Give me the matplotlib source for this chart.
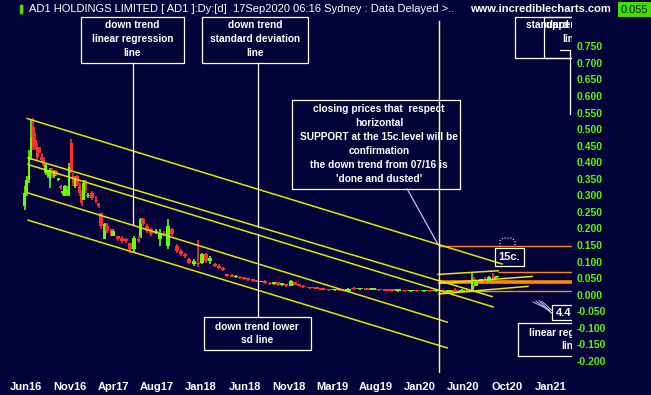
import matplotlib
matplotlib.use('Agg')
import matplotlib.pyplot as plt
import matplotlib.dates as mdates
import matplotlib.transforms as mtransforms
from matplotlib.patches import Rectangle, FancyBboxPatch
import numpy as np
import pandas as pd

plt.rcParams['font.family'] = ['Liberation Sans', 'DejaVu Sans']

# ---- price data (roughly weekly / fortnightly bars) ----
dates = ['2016-06-03', '2016-06-10', '2016-06-17', '2016-06-24', '2016-07-01', '2016-07-08', '2016-07-15',
         '2016-07-22', '2016-07-29', '2016-08-05', '2016-08-12', '2016-08-19', '2016-08-26', '2016-09-02',
         '2016-09-09', '2016-09-16', '2016-09-23', '2016-09-30', '2016-10-07', '2016-10-14', '2016-10-21',
         '2016-10-28', '2016-11-04', '2016-11-11', '2016-11-18', '2016-11-25', '2016-12-02', '2016-12-09',
         '2016-12-16', '2016-12-23', '2016-12-30',
         '2017-01-13', '2017-01-27', '2017-02-03', '2017-02-10', '2017-02-24', '2017-03-03', '2017-03-17',
         '2017-03-24', '2017-04-07', '2017-04-21', '2017-05-05', '2017-05-19', '2017-06-02', '2017-06-16',
         '2017-06-23', '2017-06-30', '2017-07-14', '2017-07-28', '2017-08-11', '2017-08-25', '2017-09-08',
         '2017-09-22', '2017-10-06', '2017-10-20', '2017-11-03', '2017-11-17', '2017-12-01', '2017-12-15',
         '2017-12-29',
         '2018-01-12', '2018-01-26', '2018-02-09', '2018-02-23', '2018-03-09', '2018-03-23', '2018-04-06',
         '2018-04-20', '2018-05-04', '2018-05-18', '2018-06-01', '2018-06-15', '2018-06-29', '2018-07-13',
         '2018-07-27', '2018-08-10', '2018-08-24', '2018-09-07', '2018-09-21', '2018-10-05', '2018-10-19',
         '2018-11-02', '2018-11-16', '2018-11-30', '2018-12-14',
         '2019-01-04', '2019-01-25', '2019-02-15', '2019-03-08', '2019-03-29', '2019-04-19', '2019-05-10',
         '2019-05-31', '2019-06-21', '2019-07-12', '2019-08-02', '2019-08-23', '2019-09-13', '2019-10-04',
         '2019-10-25', '2019-11-15', '2019-12-06', '2019-12-27',
         '2020-01-17', '2020-02-07', '2020-02-28', '2020-03-20', '2020-04-10', '2020-05-01', '2020-05-22',
         '2020-06-12', '2020-06-26', '2020-07-03', '2020-07-10', '2020-07-24', '2020-08-07', '2020-08-21',
         '2020-09-04', '2020-09-11', '2020-09-17']

opens = [.27, .31, .35, .42, .51, .47, .45, .445, .42, .41, .37, .36, .35, .38, .36, .375, .35, .33, .31, .30,
         .31, .30, .46, .36, .33, .36, .33, .31, .29, .34, .30,
         .31, .29, .28, .25, .17, .21, .20, .18, .18, .175, .17, .16, .14, .17, .18, .23, .21, .20, .19, .17,
         .19, .15, .20, .15, .135, .125, .11, .095, .10,
         .10, .125, .105, .095, .09, .08, .065, .06, .055, .056, .052, .05, .047, .044, .04, .044, .037, .034,
         .04, .032, .034, .03, .04, .033, .03,
         .025, .022, .02, .018, .016, .019, .015, .021, .019, .023, .018, .02, .016, .015, .014, .015, .013, .014,
         .013, .014, .013, .015, .012, .016, .013, .018, .012, .05, .03, .045, .05, .045, .058, .052, .055]
highs = [.33, .36, .44, .53, .536, .49, .46, .45, .43, .42, .40, .38, .385, .385, .38, .38, .355, .335, .315, .335,
         .33, .40, .473, .37, .36, .365, .34, .32, .35, .35, .31,
         .315, .30, .28, .25, .22, .22, .20, .20, .18, .18, .175, .16, .18, .18, .235, .235, .215, .205, .20, .20,
         .195, .23, .205, .155, .14, .13, .115, .11, .168,
         .13, .13, .12, .10, .095, .085, .065, .065, .062, .058, .055, .052, .05, .047, .045, .047, .04, .042,
         .041, .036, .035, .047, .041, .035, .031,
         .027, .024, .022, .02, .02, .02, .022, .026, .024, .024, .022, .021, .018, .017, .016, .016, .015, .015,
         .015, .015, .016, .02, .018, .022, .02, .02, .072, .055, .045, .05, .056, .058, .068, .06, .058]
lows = [.26, .30, .34, .41, .44, .44, .41, .43, .40, .39, .365, .355, .325, .355, .355, .36, .345, .32, .305, .30,
        .30, .30, .37, .33, .325, .33, .30, .27, .29, .31, .295,
        .29, .28, .265, .20, .17, .19, .18, .18, .165, .16, .16, .13, .13, .16, .175, .21, .19, .18, .185, .15,
        .18, .14, .18, .13, .12, .115, .095, .09, .087,
        .095, .10, .095, .085, .08, .075, .055, .055, .053, .05, .048, .045, .042, .04, .04, .035, .032, .033,
        .03, .028, .027, .03, .032, .028, .024,
        .021, .019, .017, .015, .014, .014, .014, .018, .016, .017, .016, .015, .013, .012, .012, .012, .012, .012,
        .012, .012, .011, .009, .01, .012, .011, .012, .01, .026, .028, .04, .042, .044, .05, .047, .052]
closes = [.31, .35, .42, .48, .45, .45, .42, .43, .41, .395, .395, .375, .38, .36, .375, .365, .35, .325, .31, .33,
          .32, .39, .375, .34, .355, .335, .31, .28, .34, .32, .305,
          .295, .285, .27, .21, .215, .195, .185, .195, .17, .165, .165, .14, .175, .165, .23, .215, .195, .185,
          .195, .19, .185, .21, .185, .135, .125, .12, .10, .105, .095,
          .125, .105, .115, .09, .082, .077, .06, .057, .06, .052, .05, .047, .044, .042, .044, .037, .034, .04,
          .032, .034, .028, .044, .033, .03, .025,
          .022, .02, .018, .016, .019, .015, .021, .019, .023, .018, .02, .016, .015, .014, .015, .013, .014, .013,
          .014, .013, .015, .012, .016, .013, .018, .015, .05, .03, .042, .048, .045, .055, .052, .055, .055]

# hand drawn trend lines: channel lines and the recent up-trend lines
trend_start = ['2016-06-11', '2016-06-14', '2016-06-14', '2016-06-14', '2016-06-14',
               '2020-03-05', '2020-03-08', '2020-03-08']
trend_start_price = [0.535, 0.416, 0.396, 0.310, 0.228, 0.064, 0.037, 0.005]
trend_end = ['2020-10-03', '2020-08-31', '2020-09-03', '2020-04-04', '2020-04-04',
             '2020-09-20', '2021-01-11', '2020-12-28']
trend_end_price = [0.0955, -0.003, -0.034, -0.080, -0.158, 0.075, 0.058, 0.028]

# horizontal support / resistance lines
level_price = [0.150, 0.072, 0.042, 0.015]
level_start = ['2020-03-09', '2020-09-20', '2020-03-09', '2020-03-09']
level_width = [1.0, 1.0, 2.6, 1.0]

marker_date = '2020-03-09'
tick_labels = ['Jun16', 'Nov16', 'Apr17', 'Aug17', 'Jan18', 'Jun18', 'Nov18', 'Mar19', 'Aug19',
               'Jan20', 'Jun20', 'Oct20', 'Jan21']
first_tick = '2016-06-07'
tick_step_days = 145.1
yticks = np.round(np.arange(-0.20, 0.751, 0.05), 3)

BG = '#03033a'
GREEN = '#66ff00'
LABEL_GREEN = '#5cf500'
RED = '#ff3030'
YELLOW = '#e6e600'
ORANGE = '#ff8a00'
W, H = 651, 395

fig = plt.figure(figsize=(W / 100, H / 100), dpi=100, facecolor=BG)
ax = fig.add_axes([0, (H - 372.5) / H, 572 / W, (372.5 - 13) / H])
ax.set_facecolor(BG)
for s in ax.spines.values():
    s.set_visible(False)

# pixel transform (origin top left) for the drawn annotation objects
T = mtransforms.Affine2D().scale(1 / W, -1 / H).translate(0, 1) + fig.transFigure

x = mdates.date2num(pd.to_datetime(dates))
o, h, l, c = map(np.array, (opens, highs, lows, closes))
col = np.where(c >= o, GREEN, RED)
gap = np.diff(x)
width = np.clip(np.r_[gap, gap[-1]] * 0.95, 9.5, 20)
body_lo = np.minimum(o, c)
body_h = np.maximum(np.abs(c - o), 0.005)

ax.vlines(x, l, h, colors=col, lw=1.2, zorder=3)
ax.bar(x, body_h, width=width, bottom=body_lo, color=col, lw=0, zorder=3)

for d0, p0, d1, p1 in zip(trend_start, trend_start_price, trend_end, trend_end_price):
    ax.plot(pd.to_datetime([d0, d1]), [p0, p1], color=YELLOW, lw=1.1, zorder=4)

xmax = mdates.date2num(pd.Timestamp('2021-05-23'))
for p, d, lw in zip(level_price, level_start, level_width):
    ax.hlines(p, mdates.date2num(pd.Timestamp(d)), xmax, color=ORANGE, lw=lw, zorder=2)

ax.axvline(pd.Timestamp(marker_date), ymin=0, ymax=(372.5 - 21) / (372.5 - 13), color='#ffff70', lw=1.0, zorder=5)

ax.set_xlim(pd.Timestamp('2016-03-13'), pd.Timestamp('2021-05-23'))
ax.set_ylim(-0.2323, 0.8538)

tick_pos = mdates.date2num(pd.Timestamp(first_tick)) + tick_step_days * np.arange(len(tick_labels))
ax.set_xticks(tick_pos)
ax.set_xticklabels(tick_labels, fontweight='bold', color='white')
ax.tick_params(axis='x', length=0, pad=6.5, labelsize=8)

# price scale on the right, drawn as text so the colour is fixed
ax.set_yticks([])
ylab_tr = mtransforms.blended_transform_factory(
    ax.transAxes + mtransforms.ScaledTranslation(5 / 100, 0, fig.dpi_scale_trans), ax.transData)
for v in yticks:
    ax.text(1.0, v, '%.3f' % v if abs(v) > 1e-9 else '0.000', transform=ylab_tr, ha='left', va='center',
            color=LABEL_GREEN, fontsize=7.5, fontweight='bold', clip_on=False)


def box(x0, y0, x1, y1, lines, cx, ys, size=7.3, ha='center'):
    ax.add_patch(Rectangle((x0, y0), x1 - x0, y1 - y0, transform=T, fill=False,
                           ec='white', lw=0.9, zorder=6))
    for s, y in zip(lines, ys):
        ax.text(cx, y, s, transform=T, ha=ha, va='center', color='white', fontsize=size,
                fontweight='bold', clip_on=True, zorder=7)


def seg(xs, ys, color='white', lw=0.9, ls='-'):
    ax.plot(xs, ys, transform=T, color=color, lw=lw, ls=ls, zorder=6)


box(80.7, 16.5, 183.7, 63, ['down trend', 'linear regression', 'line'], 132.5, [25, 39.2, 53.3])
seg([132.7, 132.7], [63, 224])
box(202.3, 16.5, 307.7, 63, ['down trend', 'standard deviation', 'line'], 255, [25, 39.2, 53.3])
seg([257.9, 257.9], [63, 226.5])
box(204, 317.3, 310.7, 350, ['down trend lower', 'sd line'], 256.7, [326.7, 339.6])
seg([258.3, 258.3], [234, 317.3])

box(292.3, 100, 460, 189,
    ['closing prices that  respect', 'horizontal', 'SUPPORT at the 15c.level will be',
     'confirmation', 'the down trend from 07/16 is', "'done and dusted'"],
    379, [109.3, 123.3, 137.3, 151.2, 165.2, 179.3])
seg([407.2, 438.3], [189, 245], color='#c8c8e0')

box(495, 248.3, 524, 265.5, ['15c.'], 509.5, [257], size=8)
seg([500, 500, 503, 512, 515, 515], [247, 241, 238, 238, 241, 247], lw=0.8, ls=':')

box(515.3, 17.3, 640, 58.3, ['standard deviation', 'line'], 571, [25.5, 39.3])
box(544.3, 17.3, 650, 58.3, ['upper sd line'], 546.5, [25.5], ha='left')
seg([560, 570, 570], [50, 50, 114])

box(552.3, 305, 640, 320, ['4.4'], 555.5, [313], size=8, ha='left')
for (sx, sy, ex, ey) in [(533, 302, 550, 310), (536, 301, 551, 312.5), (539, 300.5, 552, 313.5),
                         (542, 301.5, 552.5, 311)]:
    seg([sx, ex], [sy, ey], color='#c8c8e0', lw=0.7)
box(518.3, 323.3, 640, 356, ['linear regression', 'line'], 570, [332.7, 345.7])

# header strip
fig.add_artist(FancyBboxPatch((19.8, 4.5), 3.6, 10, boxstyle='round,pad=0,rounding_size=1.5',
                              transform=T, fc='#44dd00', ec='none'))
fig.text(29, 9.5, 'AD1 HOLDINGS LIMITED [ AD1 ]:Dy:[d]  17Sep2020 06:16 Sydney : Data Delayed >..',
         transform=T, color='white', fontsize=8, ha='left', va='center')
fig.text(470, 9.5, 'www.incrediblecharts.com', transform=T, color='white', fontsize=8,
         fontweight='bold', ha='left', va='center')
fig.add_artist(Rectangle((618, 2), 33, 15, transform=T, fc='#44dd00', ec='none'))
fig.text(634.5, 9.7, '0.055', transform=T, color='#002200', fontsize=8, ha='center', va='center')

fig.savefig('out.png', dpi=100, facecolor=BG)
